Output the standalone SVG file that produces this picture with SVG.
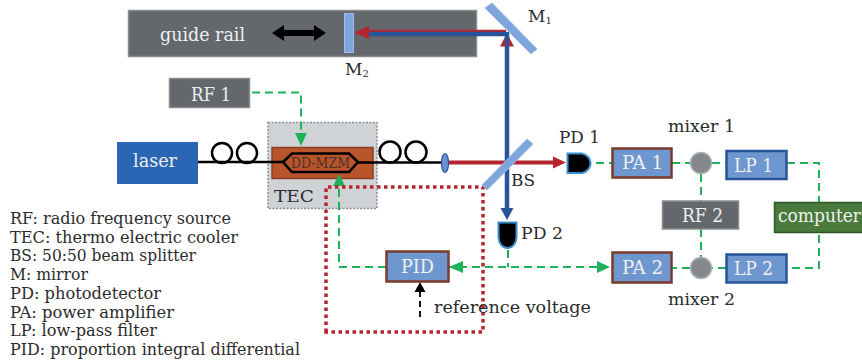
<svg xmlns="http://www.w3.org/2000/svg" width="862" height="361" viewBox="0 0 862 361">
<defs>
<style>
text{font-family:"DejaVu Serif","Liberation Serif",serif;fill:#2b2b2b;font-size:17px}
#legend text{font-size:16.200px}
.w{fill:#eef0f2;font-size:18.500px}
.l{font-size:17.500px}
.grey{fill:#64676b;stroke:#8a8d90;stroke-width:1.5}
.pa{fill:#6f97cf;stroke:#7a3a2c;stroke-width:2.5}
.lp{fill:#6f97cf;stroke:#27549b;stroke-width:2.5}
.mix{fill:#84888c;stroke:#aab0b4;stroke-width:1.5}
.mir{fill:#7ea6dc;stroke:#9dbde6;stroke-width:1}
.g{fill:none;stroke:#1db35a;stroke-width:2;stroke-dasharray:8 5}
.fib{fill:none;stroke:#000;stroke-width:2.5}
.pd{fill:#000;stroke:#3b8fd0;stroke-width:2}
.hg{fill:#1db35a}
.sub{font-size:10px}
</style>
</defs>
<g id="guide-rail"><rect class="grey" x="128.500" y="10.500" width="348" height="46"/><text class="w" x="160" y="41" textLength="85" lengthAdjust="spacingAndGlyphs">guide rail</text></g>
<g id="tec"><rect x="268" y="122.500" width="109" height="86" fill="#d0d3d6" stroke="#8c9094" stroke-width="1.500" stroke-dasharray="2 1.500"/><text class="l" x="274" y="202" textLength="40" lengthAdjust="spacingAndGlyphs">TEC</text></g>
<g id="dd-mzm"><rect x="272" y="147.500" width="101" height="31" fill="#b9552b" stroke="#8a3f24" stroke-width="1.500"/></g>
<g id="connectors">
<path class="fib" d="M198 162H283M358 162.500H443"/>
<circle class="fib" cx="222" cy="153" r="10"/><circle class="fib" cx="247" cy="153" r="10"/>
<circle class="fib" cx="390" cy="152" r="10.500"/><circle class="fib" cx="416" cy="152" r="10.500"/>
<path class="fib" d="M283 162L292 153.500H349L358 162L349 172H292Z"/>
<path d="M447 162.500H554" stroke="#b5242f" stroke-width="4" fill="none"/>
<path d="M566 162.500L553 156.500V168.500Z" fill="#b5242f"/>
<path d="M365 31H506" stroke="#b5242f" stroke-width="2.500" fill="none"/>
<path d="M354 32.500L369 26V39Z" fill="#b5242f"/>
<path d="M369 34H507" stroke="#27549b" stroke-width="4.500" fill="none"/>
<path d="M507 32V212" stroke="#27549b" stroke-width="4.500"/>
<path d="M500 46.500L505 37V46.500ZM514 46.500L509 37V46.500Z" fill="#b5242f"/>
<path d="M500.500 208H513.500L507 220Z" fill="#27549b"/>
<path class="g" d="M252 92.500H301V134"/>
<path class="hg" d="M301 146L295 133H307Z"/>
<path class="g" d="M596 163H612M672 163H690M712 163H726M787 163H819V268H787M726 268H712M690 268H672M597 267H449"/>
<path class="g" d="M701 174V201M701 229V258M508 250V267"/>
<path class="g" d="M386 267H339V186"/>
<path class="hg" d="M339 174L333 186H345Z"/>
<path class="hg" d="M449 267L463 261V273Z"/>
<path class="hg" d="M610 267L597 261V273Z"/>
<path d="M420 317V292" fill="none" stroke="#000" stroke-width="1.800" stroke-dasharray="6 4"/>
<path d="M420 282L414.500 292H425.500Z" fill="#000"/>
<path d="M326 332V187H483V332Z" fill="none" stroke="#b5242f" stroke-width="3.500" stroke-dasharray="3.500 3.500"/>
<path d="M272 33L284 25V30H314V25L326 33L314 41V36H284V41Z" fill="#000"/>
</g>
<text x="291" y="168" style="font-size:14px;fill:#4a3128" textLength="59" lengthAdjust="spacingAndGlyphs">DD-MZM</text>
<g id="m2"><rect class="mir" x="344.500" y="13.500" width="9" height="39"/><text x="345" y="75">M<tspan class="sub" dy="2">2</tspan></text></g>
<g id="m1"><path class="mir" d="M485 8L492 3L537 49L531 54Z"/><text x="528" y="22">M<tspan class="sub" dy="2">1</tspan></text></g>
<g id="bs"><path class="mir" d="M527 139L533 144L487 190L482 185Z"/><text x="511" y="186" textLength="24" lengthAdjust="spacingAndGlyphs">BS</text></g>
<g id="rf1"><rect class="grey" x="169.500" y="78.500" width="80" height="29"/><text class="w" x="191" y="101" textLength="40" lengthAdjust="spacingAndGlyphs">RF 1</text></g>
<g id="laser"><rect x="117" y="142" width="81" height="42" fill="#2b66b5"/><text class="w" x="133" y="167" textLength="44" lengthAdjust="spacingAndGlyphs">laser</text></g>
<g id="lens"><ellipse cx="445" cy="163" rx="3.500" ry="9.500" fill="#6a92d2" stroke="#27549b" stroke-width="1.200"/></g>
<g id="pd1"><path class="pd" d="M567.500 153.500H582A11 10 0 0 1 582 173H567.500Z"/><text class="l" x="559" y="143" textLength="41" lengthAdjust="spacingAndGlyphs">PD 1</text></g>
<g id="pd2"><path class="pd" d="M498.500 222.500H516.500V237A9 11 0 0 1 498.500 237Z"/><text class="l" x="521" y="239" textLength="42" lengthAdjust="spacingAndGlyphs">PD 2</text></g>
<g id="pa1"><rect class="pa" x="612.500" y="148.500" width="59" height="29"/><text class="w" x="622" y="169" textLength="41" lengthAdjust="spacingAndGlyphs">PA 1</text></g>
<g id="pa2"><rect class="pa" x="612.500" y="252.500" width="59" height="30"/><text class="w" x="622" y="274" textLength="41" lengthAdjust="spacingAndGlyphs">PA 2</text></g>
<g id="mixer1"><circle class="mix" cx="701" cy="163" r="10.500"/><text class="l" x="668" y="132" textLength="67" lengthAdjust="spacingAndGlyphs">mixer 1</text></g>
<g id="mixer2"><circle class="mix" cx="701" cy="268" r="10.500"/><text class="l" x="668" y="305" textLength="67" lengthAdjust="spacingAndGlyphs">mixer 2</text></g>
<g id="lp1"><rect class="lp" x="726.500" y="151" width="60" height="28"/><text class="w" x="734" y="172" textLength="39" lengthAdjust="spacingAndGlyphs">LP 1</text></g>
<g id="lp2"><rect class="lp" x="726.500" y="254.500" width="60" height="28"/><text class="w" x="734" y="275" textLength="39" lengthAdjust="spacingAndGlyphs">LP 2</text></g>
<g id="rf2"><rect class="grey" x="662.500" y="201" width="76" height="28"/><text class="w" x="682" y="222" textLength="41" lengthAdjust="spacingAndGlyphs">RF 2</text></g>
<g id="computer"><rect x="774.500" y="202.500" width="92" height="30" fill="#4a7a3c" stroke="#2f5a28" stroke-width="1.500"/><text class="w" x="778" y="222" textLength="83" lengthAdjust="spacingAndGlyphs">computer</text></g>
<g id="pid"><rect class="pa" x="386.500" y="251.500" width="62" height="30"/><text class="w" x="401" y="273" textLength="33" lengthAdjust="spacingAndGlyphs">PID</text></g>
<text class="l" x="434" y="313" textLength="157" lengthAdjust="spacingAndGlyphs">reference voltage</text>
<g id="legend">
<text x="10" y="224" textLength="221" lengthAdjust="spacingAndGlyphs">RF: radio frequency source</text>
<text x="10" y="243" textLength="228" lengthAdjust="spacingAndGlyphs">TEC: thermo electric cooler</text>
<text x="10" y="261" textLength="186" lengthAdjust="spacingAndGlyphs">BS: 50:50 beam splitter</text>
<text x="10" y="280" textLength="78" lengthAdjust="spacingAndGlyphs">M: mirror</text>
<text x="10" y="299" textLength="151" lengthAdjust="spacingAndGlyphs">PD: photodetector</text>
<text x="10" y="318" textLength="164" lengthAdjust="spacingAndGlyphs">PA: power amplifier</text>
<text x="10" y="336" textLength="147" lengthAdjust="spacingAndGlyphs">LP: low-pass filter</text>
<text x="10" y="355" textLength="290" lengthAdjust="spacingAndGlyphs">PID: proportion integral differential</text>
</g>
</svg>
